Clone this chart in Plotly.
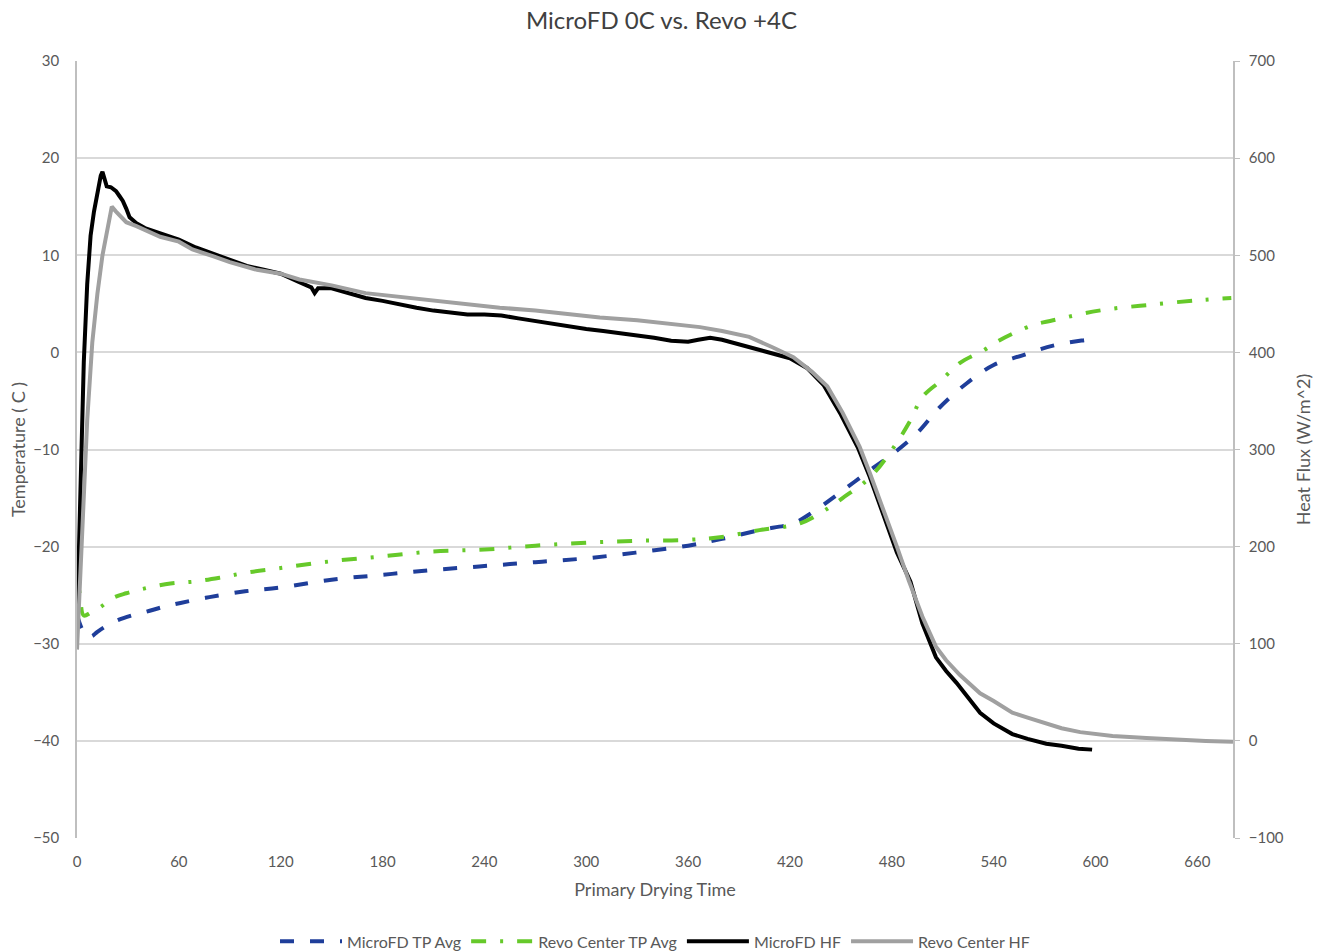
import plotly.graph_objects as go

# ---- data ----
micro_tp_t = [0, 3, 6.5, 9, 11.8, 17, 23.6, 32, 41, 51, 61, 78, 99, 120, 150, 180, 210, 240, 270,
              300, 330, 360, 380, 402, 422, 433, 449, 469, 481, 495, 508, 524, 540, 557, 575, 595, 599]
micro_tp = [-27.0, -28.5, -29.3, -29.2, -28.8, -28.2, -27.6, -27.1, -26.7, -26.2, -25.8, -25.2, -24.6,
            -24.2, -23.4, -22.9, -22.4, -22.0, -21.6, -21.2, -20.6, -19.9, -19.2, -18.3, -17.6, -16.5,
            -14.5, -11.9, -10.4, -8.3, -5.7, -3.2, -1.3, -0.3, 0.7, 1.3, 1.4]

revo_tp_t = [0, 2, 4, 8, 14, 21, 29, 40, 55, 69, 84, 99, 120, 150, 180, 210, 240, 270, 300, 330, 360,
             380, 402, 426, 442, 451, 467, 481, 491, 498, 509, 520, 534, 543, 563, 575, 602, 632, 663, 680]
revo_tp = [-21.5, -25.5, -27.1, -26.8, -26.2, -25.3, -24.8, -24.3, -23.8, -23.6, -23.2, -22.7, -22.2,
           -21.5, -21.0, -20.5, -20.3, -19.9, -19.6, -19.4, -19.3, -19.0, -18.3, -17.6, -16.1, -15.0,
           -12.9, -9.8, -7.0, -4.6, -2.9, -1.1, 0.2, 1.2, 2.8, 3.3, 4.3, 4.9, 5.4, 5.6]

micro_hf_t = [0, 2, 4, 6, 8, 10, 12, 14, 15, 16, 17.5, 20, 23, 25, 27, 29, 31, 35, 40, 50, 60, 70, 80,
              90, 100, 110, 120, 130, 138, 140, 142, 150, 160, 170, 180, 190, 200, 210, 220, 230, 240,
              250, 260, 270, 280, 290, 300, 310, 320, 330, 340, 350, 360, 366, 373, 380, 390, 400, 410,
              420, 430, 440, 450, 460, 467, 473, 483, 491, 498, 506, 512, 518, 525, 532, 540, 551, 560,
              571, 580, 590, 598]
micro_hf = [120, 250, 390, 470, 520, 545, 565, 582, 586, 580, 571, 570, 566, 561, 556, 548, 539, 533,
            528, 522, 516, 508, 502, 495, 489, 485, 481, 473, 467, 461, 466, 466, 461, 456, 453, 449,
            446, 443, 441, 439, 439, 438, 435, 432, 430, 427, 424, 422, 420, 418, 415, 412, 411, 413,
            415, 413, 408, 403, 398, 394, 384, 366, 336, 302, 272, 243, 194, 164, 121, 86, 72, 60, 45,
            29, 18, 7, 2, -3, -5, -8, -9]

revo_hf_t = [0, 3, 6, 9, 12, 15, 18, 20.5, 23, 26, 29, 35, 40, 49, 60, 68, 80, 90, 106, 120, 131, 150,
             170, 190, 210, 230, 249, 270, 290, 308, 330, 350, 367, 380, 396, 410, 422, 433, 442, 451,
             461, 467, 473, 483, 490, 498, 506, 512, 520, 532, 540, 551, 560, 571, 580, 591, 600, 610,
             630, 650, 665, 681]
revo_hf = [94, 220, 330, 410, 460, 500, 530, 550, 545, 540, 534, 530, 526, 519, 514, 506, 499, 493, 485,
           481, 475, 469, 461, 457, 453, 449, 446, 443, 439, 436, 433, 429, 426, 422, 416, 405, 395, 380,
           365, 338, 303, 276, 248, 200, 165, 128, 97, 83, 68, 49, 41, 29, 24, 18, 13, 9, 7, 5, 3, 1,
           0, -1]

x_ticks = list(range(0, 661, 60))

FONT = "Lato"
TXT = "#595959"

fig = go.Figure()
fig.add_trace(go.Scatter(x=micro_tp_t, y=micro_tp, name="MicroFD TP Avg", mode="lines",
                         line=dict(color="#1F3E9A", width=4, dash="14px,16px", shape="spline"),
                         yaxis="y"))
fig.add_trace(go.Scatter(x=revo_tp_t, y=revo_tp, name="Revo Center TP Avg", mode="lines",
                         line=dict(color="#66C92A", width=4, dash="15px,14px,3px,14px", shape="spline"),
                         yaxis="y"))
fig.add_trace(go.Scatter(x=micro_hf_t, y=micro_hf, name="MicroFD HF", mode="lines",
                         line=dict(color="#000000", width=4), yaxis="y2"))
fig.add_trace(go.Scatter(x=revo_hf_t, y=revo_hf, name="Revo Center HF", mode="lines",
                         line=dict(color="#A0A0A0", width=4), yaxis="y2"))

fig.update_layout(
    width=1323, height=952,
    margin=dict(l=77, r=90, t=61, b=114, autoexpand=False),
    paper_bgcolor="white", plot_bgcolor="white",
    font=dict(family=FONT, color=TXT, size=15),
    title=dict(text="MicroFD 0C vs. Revo +4C", x=0.5, xanchor="center", y=0.978, yanchor="middle",
               font=dict(family=FONT, size=24, color="#404040")),
    showlegend=True,
    legend=dict(orientation="h", x=0.5, xanchor="center", y=-0.155, yanchor="bottom",
                font=dict(size=16, color=TXT), traceorder="normal", itemwidth=62),
    xaxis=dict(range=[0, 681], tickvals=x_ticks, showgrid=False, zeroline=False,
               showline=False, ticks="", ticklabelstandoff=13, tickfont=dict(size=15, color=TXT),
               title=dict(text="Primary Drying Time", font=dict(size=18, color=TXT), standoff=14)),
    yaxis=dict(range=[-50, 30], dtick=10, showgrid=True, gridcolor="#D9D9D9", gridwidth=1.5,
               zeroline=True, zerolinecolor="#D9D9D9", zerolinewidth=1.5,
               showline=True, linecolor="#BFBFBF", linewidth=1.5, ticks="",
               ticklabelstandoff=13, tickfont=dict(size=15, color=TXT),
               title=dict(text="Temperature ( C )", font=dict(size=18, color=TXT), standoff=3)),
    yaxis2=dict(range=[-100, 700], dtick=100, overlaying="y", side="right", showgrid=False,
                zeroline=False, showline=True, linecolor="#BFBFBF", linewidth=1.5,
                ticks="outside", ticklen=5, tickcolor="#BFBFBF", ticklabelstandoff=6,
                tickfont=dict(size=15, color=TXT),
                title=dict(text="Heat Flux (W/m^2)", font=dict(size=18, color=TXT), standoff=15)),
)

fig.write_html("out.html")
